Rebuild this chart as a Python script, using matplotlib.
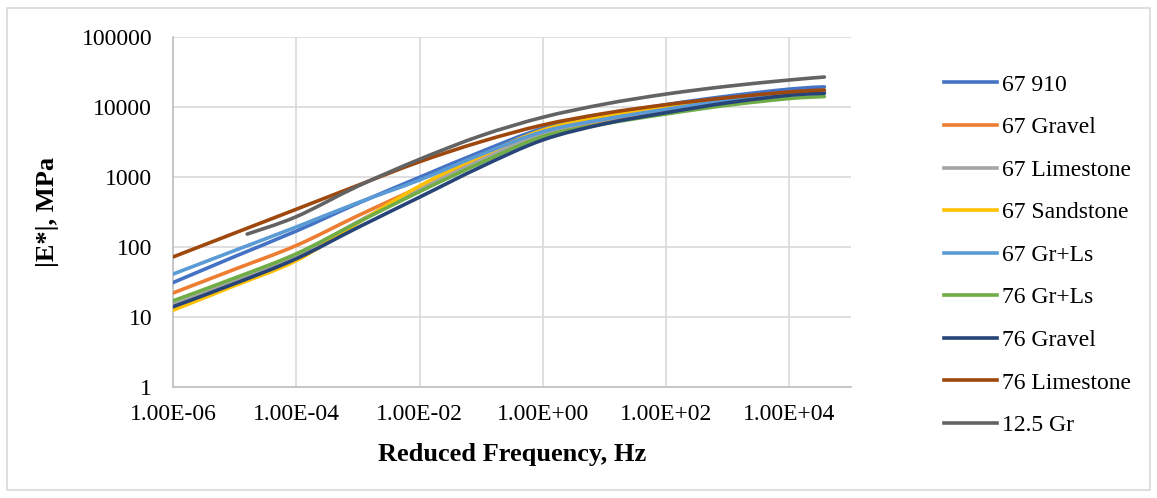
import numpy as np
import matplotlib.pyplot as plt
from matplotlib.patches import Rectangle, PathPatch
from matplotlib.path import Path
from matplotlib.lines import Line2D

plt.rcParams['font.family'] = ['Liberation Serif', 'DejaVu Serif']

# reduced frequency (Hz) where values were read
freq = [1e-6, 1e-5, 1e-4, 1e-3, 1e-2, 1e-1, 1e0, 1e1, 1e2, 1e3, 1e4, 3.7e4]
freq_gr = [1.6e-5, 1e-4, 1e-3, 1e-2, 1e-1, 1e0, 1e1, 1e2, 1e3, 1e4, 3.7e4]

# |E*| values, MPa
e_67_910 = [31, 73, 169, 420, 990, 2300, 4950, 7600, 10800, 14300, 18000, 19400]
e_67_gravel = [22, 48, 105, 280, 713, 1780, 4080, 6400, 9000, 12000, 15200, 16300]
e_67_limestone = [15, 33, 75, 230, 675, 1750, 4200, 6600, 9300, 12500, 15700, 16800]
e_67_sandstone = [12.5, 28, 64, 220, 743, 2000, 4690, 7300, 10100, 13200, 15700, 16800]
e_67_grls = [41, 89, 193, 430, 906, 2100, 4440, 6700, 9270, 12500, 15700, 16800]
e_76_grls = [17, 36, 80, 225, 617, 1600, 3770, 5750, 7940, 10600, 13200, 14100]
e_76_gravel = [14, 30, 68, 190, 515, 1400, 3380, 5750, 8290, 11500, 14700, 15700]
e_76_limestone = [72, 158, 346, 760, 1650, 3200, 5530, 8100, 10800, 13600, 16400, 17500]
e_125_gr = [153, 271, 740, 1790, 3900, 7130, 11000, 15300, 19800, 24300, 26800]

series = [
    ('67 910', freq, e_67_910, '#4472C4'),
    ('67 Gravel', freq, e_67_gravel, '#ED7D31'),
    ('67 Limestone', freq, e_67_limestone, '#A5A5A5'),
    ('67 Sandstone', freq, e_67_sandstone, '#FFC000'),
    ('67 Gr+Ls', freq, e_67_grls, '#5B9BD5'),
    ('76 Gr+Ls', freq, e_76_grls, '#70AD47'),
    ('76 Gravel', freq, e_76_gravel, '#264478'),
    ('76 Limestone', freq, e_76_limestone, '#9E480E'),
    ('12.5 Gr', freq_gr, e_125_gr, '#636363'),
]


def smooth_path(x, y):
    # excel-style smoothed line: bezier segments built in log-log space
    p = np.column_stack([np.log10(x), np.log10(y)])
    n = len(p)
    verts = [p[0]]
    codes = [Path.MOVETO]
    for i in range(n - 1):
        p0 = p[i - 1] if i > 0 else p[i]
        p3 = p[i + 2] if i + 2 < n else p[i + 1]
        c1 = p[i] + (p[i + 1] - p0) / 6
        c2 = p[i + 1] - (p3 - p[i]) / 6
        verts += [c1, c2, p[i + 1]]
        codes += [Path.CURVE4] * 3
    return Path(10 ** np.array(verts), codes)


fig = plt.figure(figsize=(11.57, 4.98), dpi=100)
ax = fig.add_axes([0.1495, 0.2229, 0.586, 0.7028])

handles = []
for name, x, y, c in series:
    ax.add_patch(PathPatch(smooth_path(x, y), fill=False, edgecolor=c, lw=2.6,
                           capstyle='round', zorder=3))
    handles.append(Line2D([], [], color=c, lw=2.6, label=name))

ax.set_xscale('log')
ax.set_yscale('log')
ax.set_xlim(1e-6, 1e5)
ax.set_ylim(1, 1e5)
ax.set_xticks([1e-6, 1e-4, 1e-2, 1e0, 1e2, 1e4])
ax.set_xticklabels(['1.00E-06', '1.00E-04', '1.00E-02', '1.00E+00', '1.00E+02', '1.00E+04'])
ax.set_yticks([1, 10, 100, 1000, 10000, 100000])
ax.set_yticklabels(['1', '10', '100', '1000', '10000', '100000'])
ax.minorticks_off()
ax.tick_params(axis='x', length=0, labelsize=17, pad=12)
ax.tick_params(axis='y', length=0, labelsize=17, pad=15)
ax.grid(True, color='#d9d9d9', lw=1.2)
ax.set_axisbelow(True)
for s in ['top', 'right']:
    ax.spines[s].set_visible(False)
for s in ['left', 'bottom']:
    ax.spines[s].set_color('#bfbfbf')
    ax.spines[s].set_linewidth(1.2)

ax.set_xlabel('Reduced Frequency, Hz', fontsize=19, fontweight='bold')
ax.set_ylabel('|E*|, MPa', fontsize=19, fontweight='bold')
ax.xaxis.set_label_coords(0.5, -0.161)
ax.yaxis.set_label_coords(-0.168, 0.5)

fig.legend(handles=handles, loc='upper left', bbox_to_anchor=(0.8077, 0.870),
           frameon=False, fontsize=17, handlelength=2.25, labelspacing=0.89,
           handletextpad=0.22, borderaxespad=0)

fig.patches.append(Rectangle((0.006, 0.016), 0.988, 0.968, transform=fig.transFigure,
                             fill=False, edgecolor='#d9d9d9', lw=1.2))

fig.savefig('out.png', dpi=100)
